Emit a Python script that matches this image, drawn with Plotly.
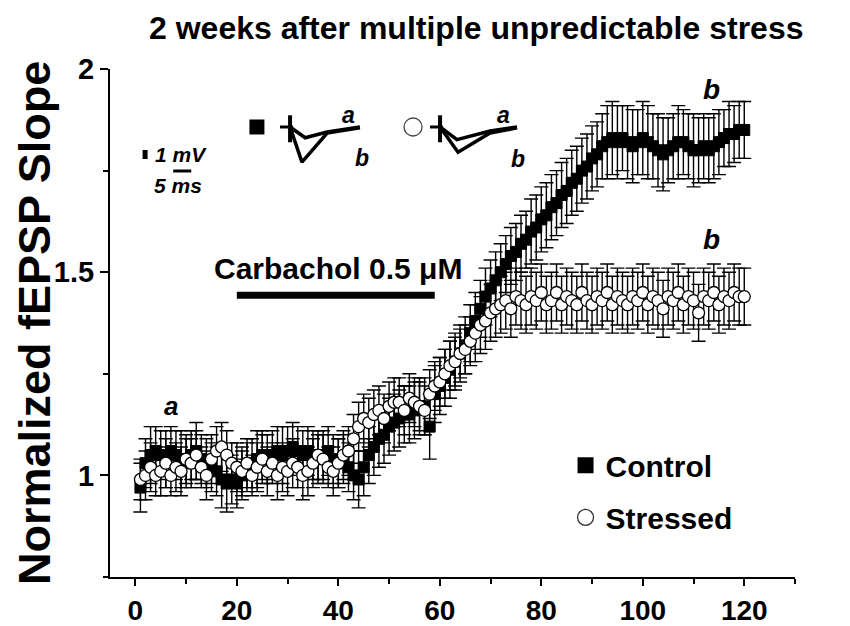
import plotly.graph_objects as go

# ---------------- data ----------------
minutes = list(range(1, 121))

control_mean = [
    0.97, 1.03, 1.05, 1.06, 1.05, 1.04, 1.06, 1.05, 1.04, 1.03,
    1.05, 1.06, 1.04, 1.03, 1.02, 1.01, 0.99, 0.98, 0.99, 0.98,
    1.00, 1.02, 1.03, 1.04, 1.05, 1.04, 1.05, 1.06, 1.05, 1.06,
    1.07, 1.06, 1.05, 1.06, 1.05, 1.04, 1.05, 1.06, 1.04, 1.03,
    1.04, 1.02, 1.00, 0.99, 1.02, 1.05, 1.07, 1.09, 1.10, 1.12,
    1.13, 1.14, 1.15, 1.15, 1.16, 1.17, 1.17, 1.12, 1.20, 1.22,
    1.24, 1.26, 1.28, 1.30, 1.32, 1.35, 1.38, 1.41, 1.44, 1.46,
    1.48, 1.50, 1.52, 1.54, 1.55, 1.57, 1.58, 1.60, 1.61, 1.63,
    1.64, 1.66, 1.67, 1.69, 1.70, 1.72, 1.73, 1.75, 1.76, 1.78,
    1.79, 1.81, 1.82, 1.83, 1.82, 1.83, 1.82, 1.81, 1.82, 1.83,
    1.82, 1.81, 1.80, 1.79, 1.80, 1.81, 1.82, 1.82, 1.81, 1.80,
    1.80, 1.81, 1.80, 1.81, 1.82, 1.83, 1.84, 1.84, 1.85, 1.85,
]
control_sem = [
    0.06, 0.06, 0.07, 0.06, 0.06, 0.07, 0.06, 0.06, 0.07, 0.06,
    0.06, 0.07, 0.06, 0.06, 0.06, 0.06, 0.07, 0.07, 0.06, 0.06,
    0.06, 0.06, 0.06, 0.07, 0.06, 0.06, 0.06, 0.06, 0.07, 0.06,
    0.06, 0.06, 0.06, 0.06, 0.06, 0.06, 0.06, 0.06, 0.06, 0.06,
    0.06, 0.06, 0.06, 0.07, 0.07, 0.07, 0.07, 0.07, 0.07, 0.07,
    0.07, 0.07, 0.07, 0.07, 0.07, 0.07, 0.07, 0.08, 0.07, 0.07,
    0.07, 0.07, 0.07, 0.07, 0.07, 0.07, 0.07, 0.07, 0.07, 0.07,
    0.07, 0.07, 0.07, 0.07, 0.07, 0.07, 0.07, 0.08, 0.08, 0.08,
    0.08, 0.08, 0.08, 0.08, 0.08, 0.08, 0.08, 0.08, 0.08, 0.08,
    0.08, 0.08, 0.09, 0.09, 0.09, 0.08, 0.09, 0.09, 0.08, 0.09,
    0.09, 0.08, 0.09, 0.09, 0.08, 0.08, 0.09, 0.08, 0.08, 0.09,
    0.08, 0.08, 0.08, 0.08, 0.08, 0.07, 0.08, 0.07, 0.07, 0.07,
]
stressed_mean = [
    0.99, 1.00, 1.02, 1.00, 1.01, 1.03, 1.00, 1.02, 1.01, 1.04,
    1.03, 1.05, 1.02, 1.00, 1.04, 1.06, 1.07, 1.05, 1.03, 1.02,
    1.01, 1.03, 1.00, 1.02, 1.04, 1.01, 1.03, 1.00, 1.02, 1.01,
    1.03, 1.02, 1.00, 1.01, 1.03, 1.05, 1.04, 1.02, 1.01, 1.03,
    1.05, 1.06, 1.09, 1.12, 1.14, 1.13, 1.15, 1.16, 1.14, 1.17,
    1.18, 1.18, 1.16, 1.19, 1.18, 1.17, 1.16, 1.20, 1.22, 1.23,
    1.25, 1.27, 1.28, 1.30, 1.31, 1.33, 1.35, 1.37, 1.38, 1.40,
    1.41, 1.42, 1.43, 1.41, 1.44, 1.43, 1.42, 1.44, 1.43, 1.45,
    1.42, 1.43, 1.45, 1.42, 1.44, 1.43, 1.42, 1.45, 1.43, 1.42,
    1.44, 1.43, 1.45, 1.42, 1.44, 1.43, 1.42, 1.44, 1.43, 1.45,
    1.42, 1.44, 1.43, 1.41, 1.44, 1.43, 1.45, 1.42, 1.44, 1.43,
    1.40, 1.44, 1.43, 1.45, 1.42, 1.44, 1.43, 1.45, 1.44, 1.44,
]
stressed_sem = [
    0.05, 0.06, 0.06, 0.05, 0.06, 0.06, 0.05, 0.06, 0.06, 0.06,
    0.06, 0.06, 0.05, 0.06, 0.06, 0.06, 0.06, 0.06, 0.05, 0.06,
    0.06, 0.06, 0.05, 0.06, 0.06, 0.06, 0.05, 0.06, 0.06, 0.06,
    0.06, 0.05, 0.06, 0.06, 0.06, 0.06, 0.06, 0.05, 0.06, 0.06,
    0.06, 0.06, 0.06, 0.06, 0.06, 0.06, 0.06, 0.06, 0.06, 0.06,
    0.06, 0.06, 0.06, 0.06, 0.06, 0.06, 0.06, 0.06, 0.06, 0.06,
    0.06, 0.06, 0.06, 0.06, 0.06, 0.06, 0.07, 0.07, 0.07, 0.07,
    0.07, 0.07, 0.07, 0.07, 0.07, 0.07, 0.07, 0.07, 0.07, 0.07,
    0.07, 0.07, 0.07, 0.07, 0.07, 0.07, 0.07, 0.07, 0.07, 0.07,
    0.07, 0.07, 0.07, 0.07, 0.07, 0.07, 0.07, 0.07, 0.07, 0.07,
    0.07, 0.07, 0.07, 0.07, 0.07, 0.07, 0.07, 0.07, 0.07, 0.07,
    0.07, 0.07, 0.07, 0.07, 0.07, 0.07, 0.07, 0.07, 0.07, 0.07,
]

x_ticks = [0, 20, 40, 60, 80, 100, 120]
y_ticks = [1, 1.5, 2]
y_tick_labels = ["1", "1.5", "2"]

carbachol_start, carbachol_end = 20, 59   # minutes of drug application
carbachol_label = "Carbachol 0.5 \u03bcM"

# inset fEPSP waveforms (time in ms, voltage in mV)
artifact_t = [0, 0]
artifact_v = [1.3, -1.7]
artifact_h_t = [-2.8, 0.8]
artifact_h_v = [0, 0]
ctrl_a_t = [0, 4.2, 10.3, 19.4]
ctrl_a_v = [0, -1.2, -0.55, 0.0]
ctrl_b_t = [0, 3.3, 10.3, 19.4]
ctrl_b_v = [0, -3.9, -0.67, -0.1]
str_a_t = [0, 4.7, 13.9, 21.4]
str_a_v = [0, -1.4, -0.45, 0.0]
str_b_t = [0, 5.0, 13.9, 21.4]
str_b_v = [0, -2.8, -0.67, -0.1]
scale_mv = 1.0
scale_ms = 5.0

FONT = "Liberation Sans, Arial, Helvetica, sans-serif"

fig = go.Figure()

# ---------------- main series ----------------
fig.add_trace(go.Scatter(
    x=minutes, y=control_mean, mode="markers", name="Control", showlegend=False,
    marker=dict(symbol="square", size=11, color="black", line=dict(color="black", width=1)),
    error_y=dict(type="data", array=control_sem, color="black", thickness=1.4, width=7),
))
fig.add_trace(go.Scatter(
    x=minutes, y=stressed_mean, mode="markers", name="Stressed", showlegend=False,
    marker=dict(symbol="circle", size=12, color="white", line=dict(color="black", width=1.3)),
    error_y=dict(type="data", array=stressed_sem, color="black", thickness=1.4, width=7),
))

# legend entries
fig.add_trace(go.Scatter(
    x=[None], y=[None], mode="markers", name="<b>Control</b>", legendgroup="c",
    marker=dict(symbol="square", size=18, color="black"),
))
fig.add_trace(go.Scatter(
    x=[None], y=[None], mode="markers", name="<b>Stressed</b>", legendgroup="s",
    marker=dict(symbol="circle", size=18, color="white", line=dict(color="#333", width=1.3)),
))

# ---------------- inset waveforms ----------------
wl = dict(color="black", width=3.5)
for xa in ("x2", "x3"):
    fig.add_trace(go.Scatter(x=artifact_t, y=artifact_v, mode="lines", line=dict(color="black", width=4),
                             xaxis=xa, yaxis="y2", showlegend=False, hoverinfo="skip"))
    fig.add_trace(go.Scatter(x=artifact_h_t, y=artifact_h_v, mode="lines", line=dict(color="black", width=3),
                             xaxis=xa, yaxis="y2", showlegend=False, hoverinfo="skip"))
fig.add_trace(go.Scatter(x=ctrl_a_t, y=ctrl_a_v, mode="lines", line=wl, xaxis="x2", yaxis="y2",
                         showlegend=False, hoverinfo="skip"))
fig.add_trace(go.Scatter(x=ctrl_b_t, y=ctrl_b_v, mode="lines", line=wl, xaxis="x2", yaxis="y2",
                         showlegend=False, hoverinfo="skip"))
fig.add_trace(go.Scatter(x=str_a_t, y=str_a_v, mode="lines", line=wl, xaxis="x3", yaxis="y2",
                         showlegend=False, hoverinfo="skip"))
fig.add_trace(go.Scatter(x=str_b_t, y=str_b_v, mode="lines", line=wl, xaxis="x3", yaxis="y2",
                         showlegend=False, hoverinfo="skip"))
fig.add_trace(go.Scatter(x=[-9.2], y=[0], mode="markers", xaxis="x2", yaxis="y2", showlegend=False,
                         marker=dict(symbol="square", size=15, color="black"), hoverinfo="skip"))
fig.add_trace(go.Scatter(x=[-7.5], y=[0], mode="markers", xaxis="x3", yaxis="y2", showlegend=False,
                         marker=dict(symbol="circle", size=18, color="white", line=dict(color="#444", width=1.3)),
                         hoverinfo="skip"))
# scale bars
fig.add_trace(go.Scatter(x=[2.8, 2.8], y=[2.33, 2.33 + scale_mv], mode="lines", line=dict(color="black", width=5),
                         xaxis="x4", yaxis="y3", showlegend=False, hoverinfo="skip"))
fig.add_trace(go.Scatter(x=[10.6, 10.6 + scale_ms], y=[1.0, 1.0], mode="lines", line=dict(color="black", width=3),
                         xaxis="x4", yaxis="y3", showlegend=False, hoverinfo="skip"))

# ---------------- layout ----------------
hidden = dict(visible=False, showgrid=False, zeroline=False, fixedrange=True)
fig.update_layout(
    width=842, height=618,
    margin=dict(l=102, r=55, t=61, b=49, autoexpand=False),
    paper_bgcolor="white", plot_bgcolor="white",
    font=dict(family=FONT, color="black"),
    xaxis=dict(
        range=[-5, 130], showgrid=False, zeroline=False, automargin=False,
        showline=True, linecolor="black", linewidth=2,
        ticks="outside", ticklen=7, tickwidth=2, tickcolor="black",
        tickvals=x_ticks, ticktext=[f"<b>{v}</b>" for v in x_ticks],
        tickfont=dict(size=28, family=FONT),
        minor=dict(dtick=10, tick0=0, ticks="outside", ticklen=5, tickwidth=2, tickcolor="black"),
    ),
    yaxis=dict(
        range=[0.75, 2.0], showgrid=False, zeroline=False, automargin=False,
        showline=True, linecolor="black", linewidth=2,
        ticks="outside", ticklen=8, tickwidth=2, tickcolor="black",
        tickvals=y_ticks, ticktext=[f"<b>{t}</b>" for t in y_tick_labels],
        tickfont=dict(size=29, family=FONT),
        minor=dict(dtick=0.25, tick0=0, ticks="outside", ticklen=5, tickwidth=2, tickcolor="black"),
    ),
    xaxis2=dict(domain=[0.1898, 0.3869], range=[-13.9, 23.6], anchor="y2", **hidden),
    xaxis3=dict(domain=[0.4088, 0.6058], range=[-13.9, 23.6], anchor="y2", **hidden),
    yaxis2=dict(domain=[0.7815, 0.939], range=[-5.89, 3.0], anchor="x2", **hidden),
    xaxis4=dict(domain=[0.0365, 0.1533], range=[0, 22.2], anchor="y3", **hidden),
    yaxis3=dict(domain=[0.7815, 0.8602], range=[0, 4.44], anchor="x4", **hidden),
    legend=dict(
        x=0.665, y=0.271, xanchor="left", yanchor="top",
        font=dict(size=30, family=FONT), bgcolor="rgba(0,0,0,0)",
        tracegroupgap=10, itemwidth=30,
    ),
    showlegend=True,
)

fig.add_shape(type="line", xref="x", yref="y",
              x0=carbachol_start, x1=carbachol_end, y0=1.443, y1=1.443,
              line=dict(color="black", width=7))

ann = [
    dict(text="<b>2 weeks after multiple unpredictable stress</b>", xref="paper", yref="paper",
         x=0.535, y=1.0, yshift=41, font=dict(size=32)),
    dict(text="<b>Normalized fEPSP Slope</b>", xref="paper", yref="paper",
         x=-0.111, y=0.5, textangle=-90, font=dict(size=45)),
    dict(text=f"<b>{carbachol_label}</b>", xref="x", yref="y", x=40, y=1.51, font=dict(size=30)),
    dict(text="<b><i>a</i></b>", xref="x", yref="y", x=7.1, y=1.17, font=dict(size=26)),
    dict(text="<b><i>b</i></b>", xref="x", yref="y", x=113.5, y=1.95, font=dict(size=28)),
    dict(text="<b><i>b</i></b>", xref="x", yref="y", x=113.5, y=1.58, font=dict(size=28)),
    dict(text="<b><i>a</i></b>", xref="x2", yref="y2", x=16.2, y=1.3, font=dict(size=23)),
    dict(text="<b><i>b</i></b>", xref="x2", yref="y2", x=20.0, y=-3.4, font=dict(size=23)),
    dict(text="<b><i>a</i></b>", xref="x3", yref="y2", x=17.5, y=1.3, font=dict(size=23)),
    dict(text="<b><i>b</i></b>", xref="x3", yref="y2", x=21.7, y=-3.6, font=dict(size=23)),
    dict(text="<b><i>1 mV</i></b>", xref="paper", yref="paper", x=0.104, y=0.831, font=dict(size=21)),
    dict(text="<b><i>5 ms</i></b>", xref="paper", yref="paper", x=0.099, y=0.770, font=dict(size=21)),
]
for a in ann:
    a.setdefault("showarrow", False)
    a.setdefault("xanchor", "center")
    a.setdefault("yanchor", "middle")
    a["font"] = dict(family=FONT, color="black", **a["font"])
    fig.add_annotation(**a)

fig.write_html("out.html")
